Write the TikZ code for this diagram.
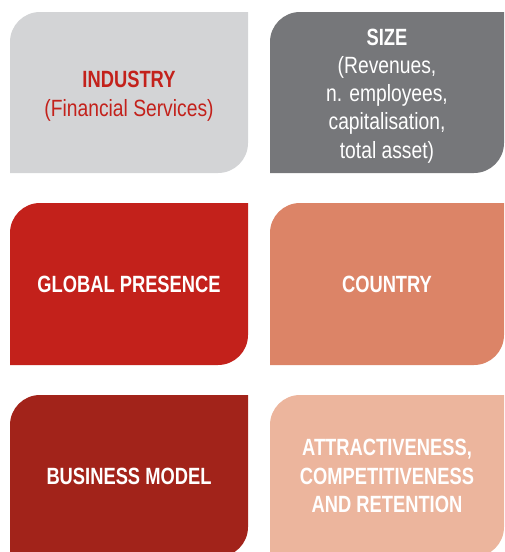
\documentclass[tikz,border=0pt]{standalone}
\usepackage{fontspec}
\setmainfont[FakeStretch=0.82,BoldFeatures={FakeStretch=0.78}]{Liberation Sans}
\definecolor{lgray}{HTML}{D3D4D6}
\definecolor{dgray}{HTML}{76777A}
\definecolor{cred}{HTML}{C3211B}
\definecolor{csal}{HTML}{DC8467}
\definecolor{cdark}{HTML}{A2231A}
\definecolor{cpale}{HTML}{ECB59D}
\tikzset{
  card/.style={rectangle, minimum width=#1, minimum height=161pt, inner sep=0pt, outer sep=0pt,
    align=center, text=white, font=\fontsize{23.5}{28.25}\selectfont},
  shapefill/.style={path picture={\fill[#1]
    ([yshift=-30pt]path picture bounding box.north west)
    arc[start angle=180,end angle=90,radius=30pt]
    -- (path picture bounding box.north east)
    -- ([yshift=30pt]path picture bounding box.south east)
    arc[start angle=0,end angle=-90,radius=30pt]
    -- (path picture bounding box.south west) -- cycle;}}
}
\begin{document}
\begin{tikzpicture}[x=1pt,y=1pt]
\useasboundingbox (0,0) rectangle (505,-552);
\clip (0,0) rectangle (505,-552);
\node[card=238pt, shapefill=lgray, text=cred] (ind) at (129,-92.5)
  {\rule{0pt}{24pt}\textbf{INDUSTRY}\\(Financial Services)};
\node[card=234pt, shapefill=dgray] (size) at (387,-92.5)
  {\rule{0pt}{23pt}\textbf{SIZE}\\(Revenues,\\n. employees,\\capitalisation,\\total asset)};
\node[card=238pt, shapefill=cred, minimum height=162pt] (glob) at (129,-284)
  {\textbf{GLOBAL PRESENCE}};
\node[card=234pt, shapefill=csal, minimum height=162pt] (ctry) at (387,-284)
  {\textbf{COUNTRY}};
\node[card=238pt, shapefill=cdark, minimum height=162pt] (bm) at (129,-476)
  {\textbf{BUSINESS MODEL}};
\node[card=234pt, shapefill=cpale, minimum height=162pt] (attr) at (387,-476)
  {\textbf{ATTRACTIVENESS,}\\\textbf{COMPETITIVENESS}\\\textbf{AND RETENTION}};
\end{tikzpicture}
\end{document}
